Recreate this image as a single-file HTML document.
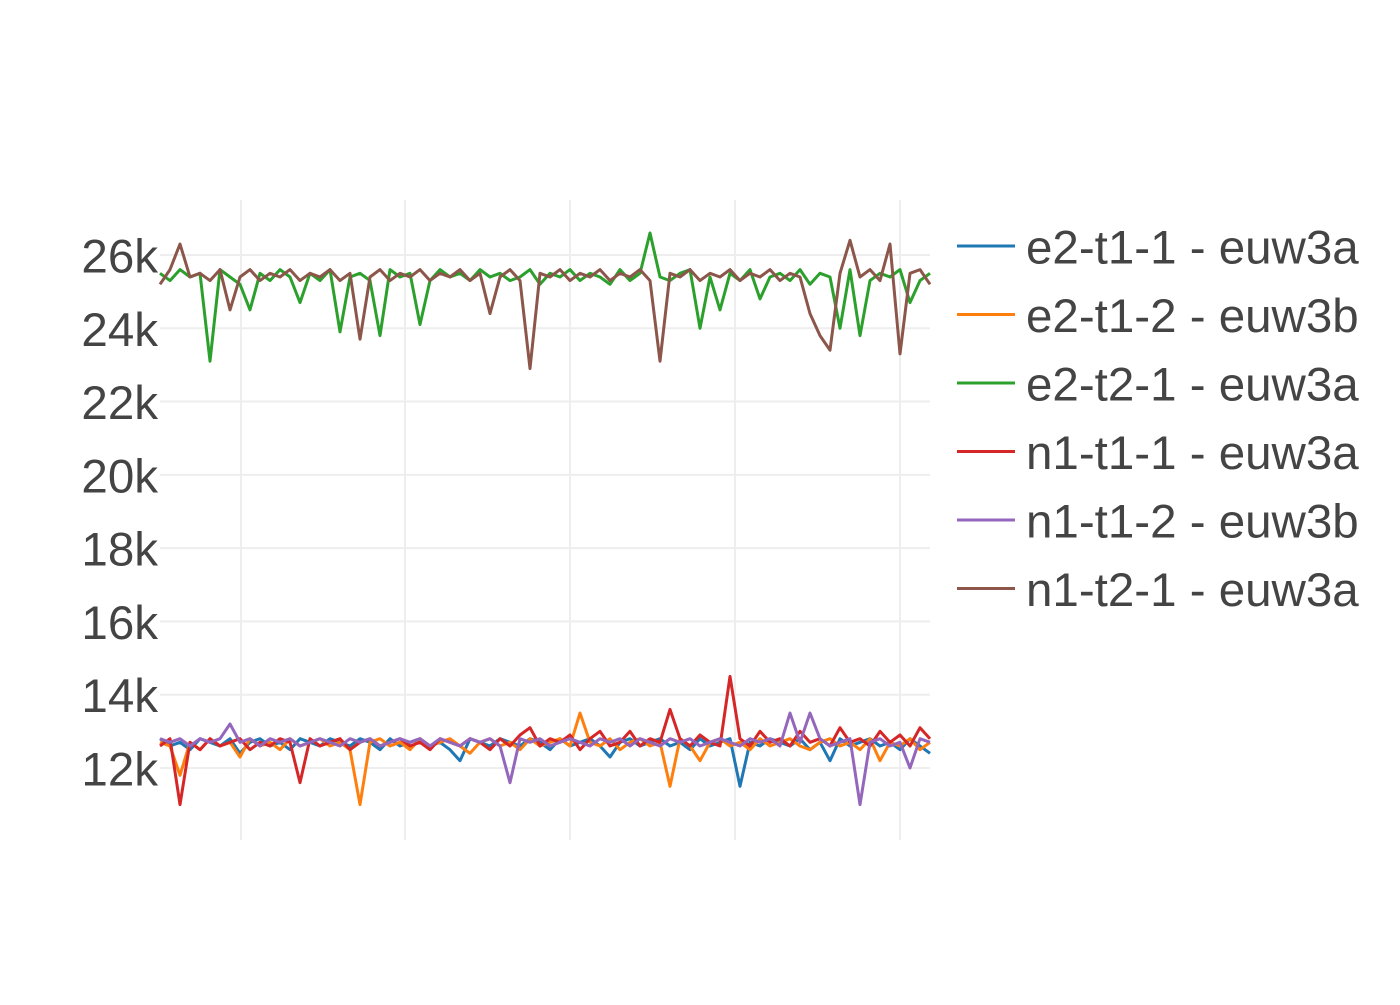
<!DOCTYPE html>
<html><head><meta charset="utf-8">
<style>
body{margin:0;background:#fff;width:1400px;height:1000px;overflow:hidden}
svg text{font-family:"Liberation Sans",sans-serif;fill:#444}
</style></head>
<body>
<svg id="chart" width="1400" height="1000" xmlns="http://www.w3.org/2000/svg">
<g id="grid"></g>
<g id="yticks"></g>
<g id="plot"></g>
<g id="legend"></g>
</svg>
<script>
const seriesNames = ["e2-t1-1 - euw3a","e2-t1-2 - euw3b","e2-t2-1 - euw3a","n1-t1-1 - euw3a","n1-t1-2 - euw3b","n1-t2-1 - euw3a"];
const seriesColors = ["#1f77b4","#ff7f0e","#2ca02c","#d62728","#9467bd","#8c564b"];
const yTicks = [12,14,16,18,20,22,24,26];
const yTickLabels = ["12k","14k","16k","18k","20k","22k","24k","26k"];
const xGridValues = [8.1,24.5,41,57.5,74];
const blue = [12.8,12.6,12.7,12.5,12.8,12.7,12.6,12.8,12.4,12.7,12.8,12.6,12.7,12.5,12.8,12.7,12.6,12.8,12.7,12.6,12.8,12.7,12.5,12.8,12.6,12.7,12.8,12.6,12.7,12.5,12.2,12.8,12.7,12.6,12.8,12.7,12.6,12.8,12.7,12.5,12.8,12.6,12.7,12.8,12.6,12.3,12.7,12.8,12.6,12.7,12.8,12.6,12.7,12.5,12.8,12.6,12.7,12.8,11.5,12.7,12.6,12.8,12.7,12.6,12.8,12.5,12.7,12.2,12.8,12.6,12.7,12.8,12.6,12.7,12.5,12.8,12.6,12.4];
const orange = [12.7,12.6,11.8,12.7,12.5,12.8,12.6,12.7,12.3,12.8,12.6,12.7,12.5,12.8,12.6,12.7,12.8,12.6,12.7,12.5,11.0,12.7,12.8,12.6,12.7,12.5,12.8,12.6,12.7,12.8,12.6,12.4,12.7,12.8,12.6,12.7,12.5,12.8,12.6,12.7,12.8,12.6,13.5,12.7,12.6,12.8,12.5,12.7,12.8,12.6,12.7,11.5,12.8,12.6,12.2,12.7,12.8,12.6,12.7,12.5,12.8,12.6,12.7,12.8,12.6,12.5,12.7,12.8,12.6,12.7,12.5,12.8,12.2,12.7,12.6,12.8,12.5,12.7];
const green = [25.5,25.3,25.6,25.4,25.5,23.1,25.6,25.4,25.2,24.5,25.5,25.3,25.6,25.4,24.7,25.5,25.3,25.6,23.9,25.4,25.5,25.3,23.8,25.6,25.4,25.5,24.1,25.3,25.6,25.4,25.5,25.3,25.6,25.4,25.5,25.3,25.4,25.6,25.2,25.5,25.4,25.6,25.3,25.5,25.4,25.2,25.6,25.3,25.5,26.6,25.4,25.3,25.5,25.6,24.0,25.4,24.5,25.5,25.3,25.6,24.8,25.4,25.5,25.3,25.6,25.2,25.5,25.4,24.0,25.6,23.8,25.3,25.5,25.4,25.6,24.7,25.3,25.5];
const red = [12.6,12.8,11.0,12.7,12.5,12.8,12.6,12.7,12.8,12.5,12.7,12.6,12.8,12.7,11.6,12.8,12.6,12.7,12.8,12.5,12.7,12.8,12.6,12.7,12.8,12.6,12.7,12.5,12.8,12.7,12.6,12.8,12.7,12.5,12.8,12.6,12.9,13.1,12.6,12.8,12.7,12.9,12.5,12.8,13.0,12.6,12.7,13.0,12.6,12.8,12.7,13.6,12.8,12.6,12.9,12.7,12.6,14.5,12.8,12.6,13.0,12.7,12.8,12.6,13.0,12.7,12.8,12.6,13.1,12.7,12.8,12.6,13.0,12.7,12.9,12.6,13.1,12.8];
const purple = [12.8,12.7,12.8,12.6,12.8,12.7,12.8,13.2,12.7,12.8,12.6,12.8,12.7,12.8,12.6,12.7,12.8,12.7,12.6,12.8,12.7,12.8,12.6,12.7,12.8,12.7,12.8,12.6,12.8,12.7,12.6,12.8,12.7,12.8,12.6,11.6,12.8,12.7,12.8,12.6,12.7,12.8,12.7,12.6,12.8,12.7,12.8,12.6,12.8,12.7,12.6,12.8,12.7,12.8,12.6,12.7,12.8,12.7,12.6,12.8,12.7,12.8,12.6,13.5,12.7,13.5,12.8,12.6,12.7,12.8,11.0,12.7,12.8,12.6,12.7,12.0,12.8,12.7];
const brown = [25.2,25.6,26.3,25.4,25.5,25.3,25.6,24.5,25.4,25.6,25.3,25.5,25.4,25.6,25.3,25.5,25.4,25.6,25.3,25.5,23.7,25.4,25.6,25.3,25.5,25.4,25.6,25.3,25.5,25.4,25.6,25.3,25.5,24.4,25.4,25.6,25.3,22.9,25.5,25.4,25.6,25.3,25.5,25.4,25.6,25.3,25.5,25.4,25.6,25.3,23.1,25.5,25.4,25.6,25.3,25.5,25.4,25.6,25.3,25.5,25.4,25.6,25.3,25.5,25.4,24.4,23.8,23.4,25.5,26.4,25.4,25.6,25.3,26.3,23.3,25.5,25.6,25.2];
const seriesData = [blue,orange,green,red,purple,brown];

const NS="http://www.w3.org/2000/svg";
const X0=160,X1=930,Y0=200,Y1=840, yMin=10.035, yMax=27.5;
const N=blue.length;
function xs(i){return X0+(X1-X0)*i/(N-1);}
function ys(v){return Y1-(v-yMin)/(yMax-yMin)*(Y1-Y0);}
function mk(tag,attrs,parent){const e=document.createElementNS(NS,tag);for(const k in attrs)e.setAttribute(k,attrs[k]);parent.appendChild(e);return e;}
const grid=document.getElementById('grid'),yt=document.getElementById('yticks'),plot=document.getElementById('plot'),leg=document.getElementById('legend');
yTicks.forEach((t,i)=>{
  const l=mk('line',{x1:X0,x2:X1,y1:ys(t),y2:ys(t),stroke:'#eee','stroke-width':2},grid);
  
  
  const tx=mk('text',{x:158,y:ys(t)+17.5,'text-anchor':'end','font-size':47.5},yt);
  tx.textContent=yTickLabels[i];
  
  
});
xGridValues.forEach(v=>{
  const l=mk('line',{x1:xs(v),x2:xs(v),y1:Y0,y2:Y1,stroke:'#eee','stroke-width':2},grid);
  
  
});
seriesData.forEach((d,s)=>{
  const pts=d.map((v,i)=>xs(i).toFixed(1)+','+ys(v).toFixed(1)).join(' ');
  const p=mk('polyline',{points:pts,fill:'none',stroke:seriesColors[s],'stroke-width':3,'stroke-linejoin':'round'},plot);
  
  
});
seriesNames.forEach((n,i)=>{
  const y=246+i*68.5;
  const g=mk('g',{},leg);
  
  
  mk('line',{x1:957,x2:1015,y1:y,y2:y,stroke:seriesColors[i],'stroke-width':3},g);
  const t=mk('text',{x:1026,y:y+17.5,'font-size':47.5},g);
  t.textContent=n;
});
</script>
</body></html>
